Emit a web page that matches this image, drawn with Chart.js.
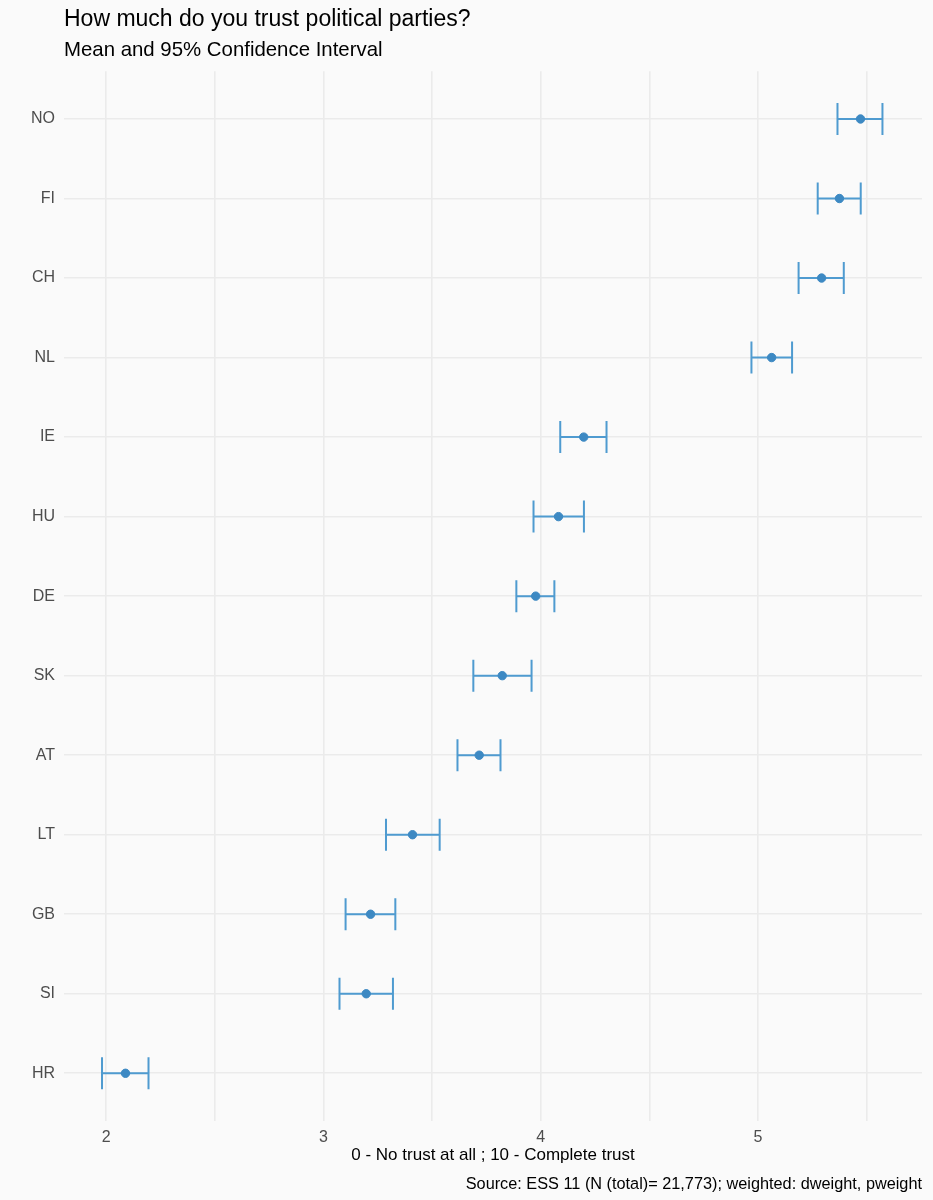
<!DOCTYPE html>
<html lang="en">
<head>
  <meta charset="UTF-8" />
  <meta name="viewport" content="width=device-width, initial-scale=1.0" />
  <title>How much do you trust political parties?</title>
  <style>
    * {
      box-sizing: border-box;
      margin: 0;
      padding: 0;
    }

    body {
      background-color: #fafafa;
      width: 933px;
      height: 1200px;
      overflow: hidden;
    }

    .chart-container {
      position: relative;
      width: 933px;
      height: 1200px;
    }
  </style>
</head>
<body>
  <div class="chart-container">
    <canvas id="trustChart"></canvas>
  </div>

  <script src="https://cdn.jsdelivr.net/npm/chart.js"></script>
  <script>
    const countries = ['NO', 'FI', 'CH', 'NL', 'IE', 'HU', 'DE', 'SK', 'AT', 'LT', 'GB', 'SI', 'HR'];
    const means = [5.472, 5.375, 5.293, 5.063, 4.198, 4.082, 3.977, 3.823, 3.717, 3.410, 3.217, 3.197, 2.089];
    const lower = [5.366, 5.275, 5.187, 4.970, 4.090, 3.967, 3.888, 3.690, 3.617, 3.288, 3.102, 3.074, 1.981];
    const upper = [5.573, 5.473, 5.395, 5.157, 4.303, 4.199, 4.063, 3.958, 3.815, 3.535, 3.331, 3.320, 2.195];
    const xTicks = [2, 2.5, 3, 3.5, 4, 4.5, 5, 5.5];

    const fontFamily = '"Liberation Sans", Arial, Helvetica, sans-serif';
    const gridColor = '#ebebeb';
    const tickColor = '#4d4d4d';

    // panel background
    const background = {
      id: 'background',
      beforeDraw(chart) {
        const ctx = chart.ctx;
        ctx.save();
        ctx.fillStyle = '#fafafa';
        ctx.fillRect(0, 0, chart.width, chart.height);
        ctx.restore();
      }
    };

    // horizontal 95% CI bars with caps
    const errorBars = {
      id: 'errorBars',
      beforeDatasetsDraw(chart) {
        const { ctx, scales: { x, y } } = chart;
        const cap = 16;
        ctx.save();
        ctx.strokeStyle = '#4f9bd0';
        ctx.lineWidth = 2;
        countries.forEach((c, i) => {
          const yp = y.getPixelForValue(i);
          const x0 = x.getPixelForValue(lower[i]);
          const x1 = x.getPixelForValue(upper[i]);
          ctx.beginPath();
          ctx.moveTo(x0, yp);
          ctx.lineTo(x1, yp);
          ctx.moveTo(x0, yp - cap);
          ctx.lineTo(x0, yp + cap);
          ctx.moveTo(x1, yp - cap);
          ctx.lineTo(x1, yp + cap);
          ctx.stroke();
        });
        ctx.restore();
      }
    };

    // source caption bottom right
    const caption = {
      id: 'caption',
      afterDraw(chart) {
        const ctx = chart.ctx;
        ctx.save();
        ctx.font = '16.3px ' + fontFamily;
        ctx.fillStyle = '#000';
        ctx.textAlign = 'right';
        ctx.textBaseline = 'alphabetic';
        ctx.fillText('Source: ESS 11 (N (total)= 21,773); weighted: dweight, pweight', chart.chartArea.right, 1189);
        ctx.restore();
      }
    };

    const trustChart = new Chart(document.getElementById('trustChart'), {
      type: 'scatter',
      data: {
        datasets: [{
          label: 'Mean',
          data: means.map((m, i) => ({ x: m, y: i })),
          backgroundColor: '#3d89c3',
          borderColor: '#3d89c3',
          pointRadius: 4.2,
          pointHoverRadius: 4.2
        }]
      },
      options: {
        responsive: true,
        maintainAspectRatio: false,
        animation: false,
        layout: {
          padding: { left: 0, right: 11, top: 0, bottom: 0 }
        },
        plugins: {
          legend: { display: false },
          title: {
            display: true,
            text: 'How much do you trust political parties?',
            align: 'start',
            fullSize: false,
            color: '#000',
            font: { family: fontFamily, size: 23, weight: 'normal' },
            padding: { top: 5.9, bottom: 4.5 }
          },
          subtitle: {
            display: true,
            text: 'Mean and 95% Confidence Interval',
            align: 'start',
            fullSize: false,
            color: '#000',
            font: { family: fontFamily, size: 20.4, weight: 'normal' },
            padding: { top: 0, bottom: 8.8 }
          }
        },
        scales: {
          x: {
            type: 'linear',
            min: 1.806,
            max: 5.755,
            afterBuildTicks: (scale) => {
              scale.ticks = xTicks.map(v => ({ value: v }));
            },
            afterFit: (scale) => {
              scale.height = 79;
            },
            ticks: {
              callback: (v) => Number.isInteger(v) ? String(v) : '',
              color: tickColor,
              font: { family: fontFamily, size: 16 },
              padding: 7,
              maxRotation: 0,
              autoSkip: false
            },
            grid: { color: gridColor, lineWidth: 1.6, drawTicks: false },
            border: { display: false },
            title: {
              display: true,
              text: '0 - No trust at all ; 10 - Complete trust',
              color: '#000',
              font: { family: fontFamily, size: 17 },
              padding: { top: 4, bottom: 34.8 }
            }
          },
          y: {
            type: 'linear',
            reverse: true,
            min: -0.6,
            max: 12.6,
            afterBuildTicks: (scale) => {
              scale.ticks = countries.map((c, i) => ({ value: i }));
            },
            afterFit: (scale) => {
              scale.width = 64;
            },
            ticks: {
              callback: (v) => countries[v],
              color: tickColor,
              font: { family: fontFamily, size: 16 },
              padding: 9,
              autoSkip: false
            },
            grid: { color: gridColor, lineWidth: 1.6, drawTicks: false },
            border: { display: false }
          }
        }
      },
      plugins: [background, errorBars, caption]
    });
  </script>
</body>
</html>
